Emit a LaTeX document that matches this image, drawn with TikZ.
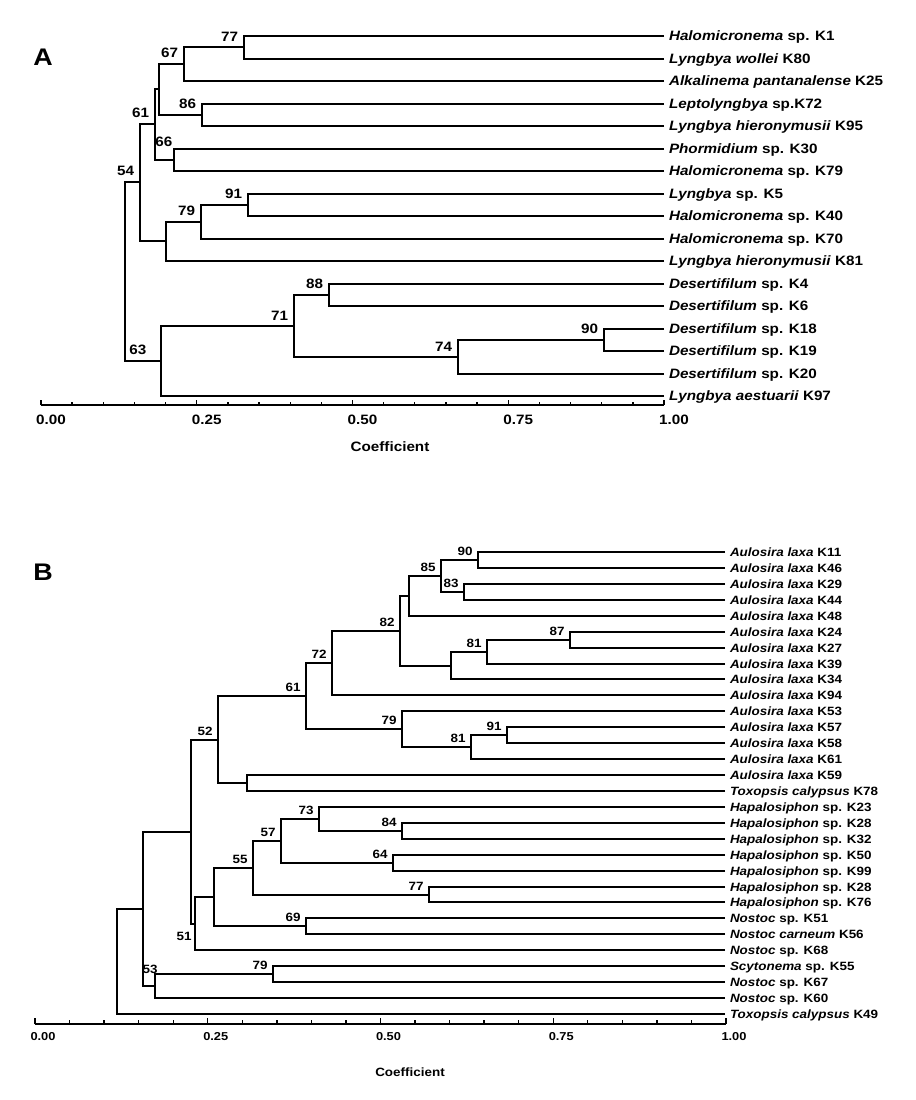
\documentclass[tikz,border=0pt]{standalone}
\usepackage{fontspec}
\setmainfont{Liberation Sans}[FakeStretch=1.12]

% one fork of the dendrogram: node #1 joins #2 and #3
\newcommand{\clade}[3]{\draw (#2) -| (#1) (#3) -| (#1);}

\begin{document}
\begin{tikzpicture}[x=0.75pt, y=-0.75pt, line width=1.5pt,
    leafA/.style={anchor=west, inner xsep=3pt, inner ysep=0pt, text height=7.3pt, text depth=0pt,
      font=\fontsize{10.2}{12}\selectfont\bfseries},
    leafB/.style={anchor=west, inner xsep=3pt, inner ysep=0pt, text height=6.45pt, text depth=0pt,
      font=\fontsize{9}{11}\selectfont\bfseries},
    bootA/.style={anchor=south east, inner sep=0pt, xshift=-3.75pt, yshift=3.75pt,
      font=\fontsize{10.2}{12}\selectfont\bfseries},
    bootB/.style={anchor=south east, inner sep=0pt, xshift=-3.3pt, yshift=2.4pt,
      font=\fontsize{9}{11}\selectfont\bfseries},
    numA/.style={inner sep=0pt, font=\fontsize{10.2}{12}\selectfont\bfseries},
    numB/.style={inner sep=0pt, font=\fontsize{8.6}{10}\selectfont\bfseries},
    tick/.style={line width=1pt},
    panel/.style={inner sep=0pt, font=\fontsize{18}{20}\selectfont\bfseries}]
  \useasboundingbox (0,0) rectangle (916,1100);

  % Panel A
  \node[panel] (pa) at (43,57) {A};

  % Leaves
  \foreach \i/\g/\s in {1/Halomicronema/sp. K1, 2/Lyngbya wollei/K80,
      3/Alkalinema pantanalense/K25, 4/Leptolyngbya/sp.K72, 5/Lyngbya hieronymusii/K95,
      6/Phormidium/sp. K30, 7/Halomicronema/sp. K79, 8/Lyngbya/sp. K5,
      9/Halomicronema/sp. K40, 10/Halomicronema/sp. K70, 11/Lyngbya hieronymusii/K81,
      12/Desertifilum/sp. K4, 13/Desertifilum/sp. K6, 14/Desertifilum/sp. K18,
      15/Desertifilum/sp. K19, 16/Desertifilum/sp. K20, 17/Lyngbya aestuarii/K97}
    \node[leafA] (la\i) at (664, {round(36+22.5*(\i-1))}) {\textit{\g} \s};

  % Forks
  \coordinate (a77) at (244, 47);
  \coordinate (a67) at (184, 64);
  \coordinate (a86) at (202, 115);
  \coordinate (au1) at (159, 89);
  \coordinate (a66) at (174, 160);
  \coordinate (a61) at (155, 124);
  \coordinate (a91) at (248, 205);
  \coordinate (a79) at (201, 222);
  \coordinate (au2) at (166, 241);
  \coordinate (a54) at (140, 182);
  \coordinate (a88) at (329, 295);
  \coordinate (a90) at (604, 340);
  \coordinate (a74) at (458, 357);
  \coordinate (a71) at (294, 326);
  \coordinate (a63) at (161, 361);
  \coordinate (aroot) at (125, 271);

  \clade{a77}{la1.west}{la2.west}
  \clade{a67}{a77}{la3.west}
  \clade{a86}{la4.west}{la5.west}
  \clade{au1}{a67}{a86}
  \clade{a66}{la6.west}{la7.west}
  \clade{a61}{au1}{a66}
  \clade{a91}{la8.west}{la9.west}
  \clade{a79}{a91}{la10.west}
  \clade{au2}{a79}{la11.west}
  \clade{a54}{a61}{au2}
  \clade{a88}{la12.west}{la13.west}
  \clade{a90}{la14.west}{la15.west}
  \clade{a74}{a90}{la16.west}
  \clade{a71}{a88}{a74}
  \clade{a63}{a71}{la17.west}
  \clade{aroot}{a54}{a63}

  % Axis
  \draw (41,405) -- (664,405);
  \foreach \k in {0,...,20}
    \draw[tick] ({41+31.15*\k},405) -- ++(0,-3);
  \foreach \k/\v in {0/0.00,1/0.25,2/0.50,3/0.75,4/1.00} {
    \draw[tick] ({41+155.75*\k},405) -- ++(0,-5);
    \node[numA] (xa\k) at ({51+155.75*\k},420) {\v};
  };
  \node[numA] (capa) at (390,447) {Coefficient};

  % Support values
  \foreach \n in {77,67,86,61,54,91,79,88,71,74,90}
    \node[bootA] (ta\n) at (a\n) {\n};
  \node[bootA, xshift=3.2pt, yshift=5.5pt] (ta66) at (a66) {66};
  \node[bootA, xshift=-6.5pt] (ta63) at (a63) {63};

  % Panel B
  \node[panel] (pb) at (43,572) {B};

  % Leaves
  \foreach \i/\g/\s in {1/Aulosira laxa/K11, 2/Aulosira laxa/K46, 3/Aulosira laxa/K29,
      4/Aulosira laxa/K44, 5/Aulosira laxa/K48, 6/Aulosira laxa/K24, 7/Aulosira laxa/K27,
      8/Aulosira laxa/K39, 9/Aulosira laxa/K34, 10/Aulosira laxa/K94, 11/Aulosira laxa/K53,
      12/Aulosira laxa/K57, 13/Aulosira laxa/K58, 14/Aulosira laxa/K61, 15/Aulosira laxa/K59,
      16/Toxopsis calypsus/K78, 17/Hapalosiphon/sp. K23, 18/Hapalosiphon/sp. K28,
      19/Hapalosiphon/sp. K32, 20/Hapalosiphon/sp. K50, 21/Hapalosiphon/sp. K99,
      22/Hapalosiphon/sp. K28, 23/Hapalosiphon/sp. K76, 24/Nostoc/sp. K51,
      25/Nostoc carneum/K56, 26/Nostoc/sp. K68, 27/Scytonema/sp. K55, 28/Nostoc/sp. K67,
      29/Nostoc/sp. K60, 30/Toxopsis calypsus/K49}
    \node[leafB] (lb\i) at (725, {round(552+15.931*(\i-1))}) {\textit{\g} \s};

  % Forks
  \coordinate (b90) at (478, 560);
  \coordinate (b83) at (464, 592);
  \coordinate (b85) at (441, 576);
  \coordinate (bu1) at (409, 596);
  \coordinate (b87) at (570, 640);
  \coordinate (b81a) at (487, 652);
  \coordinate (bu2) at (451, 666);
  \coordinate (b82) at (400, 631);
  \coordinate (b72) at (332, 663);
  \coordinate (b91) at (507, 735);
  \coordinate (b81b) at (471, 747);
  \coordinate (b79a) at (402, 729);
  \coordinate (b61) at (306, 696);
  \coordinate (bu3) at (247, 783);
  \coordinate (b52) at (218, 740);
  \coordinate (b84) at (402, 831);
  \coordinate (b73) at (319, 819);
  \coordinate (b64) at (393, 863);
  \coordinate (b57) at (281, 841);
  \coordinate (b77) at (429, 895);
  \coordinate (b55) at (253, 868);
  \coordinate (b69) at (306, 926);
  \coordinate (bu4) at (214, 897);
  \coordinate (b51) at (195, 924);
  \coordinate (bu5) at (191, 832);
  \coordinate (b79c) at (273, 974);
  \coordinate (b53) at (155, 986);
  \coordinate (bu6) at (143, 909);
  \coordinate (broot) at (117, 962);

  \clade{b90}{lb1.west}{lb2.west}
  \clade{b83}{lb3.west}{lb4.west}
  \clade{b85}{b90}{b83}
  \clade{bu1}{b85}{lb5.west}
  \clade{b87}{lb6.west}{lb7.west}
  \clade{b81a}{b87}{lb8.west}
  \clade{bu2}{b81a}{lb9.west}
  \clade{b82}{bu1}{bu2}
  \clade{b72}{b82}{lb10.west}
  \clade{b91}{lb12.west}{lb13.west}
  \clade{b81b}{b91}{lb14.west}
  \clade{b79a}{lb11.west}{b81b}
  \clade{b61}{b72}{b79a}
  \clade{bu3}{lb15.west}{lb16.west}
  \clade{b52}{b61}{bu3}
  \clade{b84}{lb18.west}{lb19.west}
  \clade{b73}{lb17.west}{b84}
  \clade{b64}{lb20.west}{lb21.west}
  \clade{b57}{b73}{b64}
  \clade{b77}{lb22.west}{lb23.west}
  \clade{b55}{b57}{b77}
  \clade{b69}{lb24.west}{lb25.west}
  \clade{bu4}{b55}{b69}
  \clade{b51}{bu4}{lb26.west}
  \clade{bu5}{b52}{b51}
  \clade{b79c}{lb27.west}{lb28.west}
  \clade{b53}{b79c}{lb29.west}
  \clade{bu6}{bu5}{b53}
  \clade{broot}{bu6}{lb30.west}

  % Axis
  \draw (35,1024) -- (726,1024);
  \foreach \k in {0,...,20}
    \draw[tick] ({35+34.55*\k},1024) -- ++(0,-4);
  \foreach \k/\v in {0/0.00,1/0.25,2/0.50,3/0.75,4/1.00} {
    \draw[tick] ({35+172.75*\k},1024) -- ++(0,-6);
    \node[numB] (xb\k) at ({43+172.75*\k},1037) {\v};
  };
  \node[numB, font=\fontsize{9}{11}\selectfont\bfseries] (capb) at (410,1072) {Coefficient};

  % Support values
  \foreach \n in {90,83,85,82,87,72,91,61,52,73,84,64,57,77,55,69}
    \node[bootB] (tb\n) at (b\n) {\n};
  \node[bootB] (tb81a) at (b81a) {81};
  \node[bootB] (tb81b) at (b81b) {81};
  \node[bootB] (tb79a) at (b79a) {79};
  \node[bootB] (tb79c) at (b79c) {79};
  \node[bootB, anchor=north east, xshift=1.5pt, yshift=-7.7pt] (tb51) at (b51) {51};
  \node[bootB, xshift=6pt, yshift=6.5pt] (tb53) at (b53) {53};
\end{tikzpicture}
\end{document}
